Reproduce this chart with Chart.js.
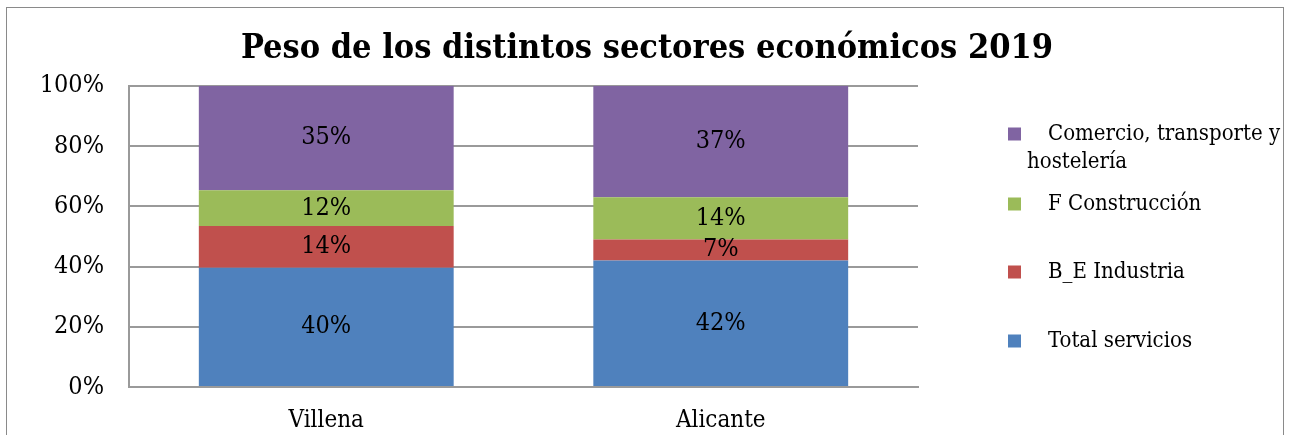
<!DOCTYPE html>
<html lang="es">
<head>
<meta charset="utf-8">
<title>Peso de los distintos sectores económicos 2019</title>
<script src="https://cdn.jsdelivr.net/npm/chart.js@4.4.1/dist/chart.umd.min.js"></script>
<style>
  html, body { margin: 0; padding: 0; background: #fff; }
  #wrap { position: relative; width: 1294px; height: 435px; overflow: hidden; }
  #frame { position: absolute; left: 6px; top: 7px; width: 1276px; height: 460px; border: 1px solid #8a8a8a; pointer-events: none; }
  canvas { position: absolute; left: 0; top: 0; }
</style>
</head>
<body>
<div id="wrap">
  <canvas id="chart" width="1294" height="435"></canvas>
  <div id="frame"></div>
</div>
<script>
// Peso de los distintos sectores económicos 2019 — 100% stacked bars

const categories = ["Villena", "Alicante"];
const seriesNames = ["Total servicios", "B_E Industria", "F Construcción", "Comercio, transporte y hostelería"];
const totalServicios = [40, 42];
const industria = [14, 7];
const construccion = [12, 14];
const comercio = [35, 37];
const yTicks = [0, 20, 40, 60, 80, 100];

const colors = ["#4F81BD", "#C0504D", "#9BBB59", "#8064A2"];
const FONT = "'DejaVu Serif Condensed', 'DejaVu Serif', serif";
const gridColor = "#9a9a9a";

// legend layout (items listed top to bottom, last series first)
const legendBox = { markerX: 1008, markerSize: 13, textX: 1048, wrapX: 1027, maxWidth: 275, lineGap: 28 };
const legendRows = [134, 204, 272, 341];

const series = [totalServicios, industria, construccion, comercio];
// each column shown as share of its total (100% stacked)
const colTotals = categories.map((_, j) => series.reduce((s, arr) => s + arr[j], 0));

const datasets = series.map((vals, i) => ({
  label: seriesNames[i],
  data: vals.map((v, j) => (v / colTotals[j]) * 100),
  pct: vals,
  backgroundColor: colors[i],
  borderWidth: 0,
  categoryPercentage: 1,
  barPercentage: 0.646,
}));

// ---------- value labels inside each segment ----------
const segmentLabels = {
  id: "segmentLabels",
  afterDatasetsDraw(chart) {
    const ctx = chart.ctx;
    ctx.save();
    ctx.font = "25px " + FONT;
    ctx.fillStyle = "#000";
    ctx.textAlign = "center";
    ctx.textBaseline = "middle";
    chart.data.datasets.forEach((ds, i) => {
      chart.getDatasetMeta(i).data.forEach((bar, j) => {
        const { x, y, base } = bar.getProps(["x", "y", "base"], true);
        ctx.fillText(ds.pct[j] + "%", x, (y + base) / 2);
      });
    });
    ctx.restore();
  },
};

// ---------- right-hand legend (Excel style, wrapped text) ----------
const sideLegend = {
  id: "sideLegend",
  afterDraw(chart) {
    const ctx = chart.ctx;
    const L = legendBox;
    ctx.save();
    ctx.font = "22px " + FONT;
    ctx.textBaseline = "middle";
    const items = chart.data.datasets.slice().reverse();
    items.forEach((ds, k) => {
      const cy = legendRows[k];
      ctx.fillStyle = ds.backgroundColor;
      ctx.fillRect(L.markerX, cy - L.markerSize / 2, L.markerSize, L.markerSize);
      ctx.fillStyle = "#000";
      // simple word wrap
      const words = ds.label.split(" ");
      const lines = [];
      let line = "";
      words.forEach((w) => {
        const test = line ? line + " " + w : w;
        const x0 = lines.length ? L.wrapX : L.textX;
        if (line && x0 + ctx.measureText(test).width > L.markerX + L.maxWidth) {
          lines.push(line);
          line = w;
        } else line = test;
      });
      lines.push(line);
      lines.forEach((t, n) => ctx.fillText(t, n ? L.wrapX : L.textX, cy + n * L.lineGap));
    });
    ctx.restore();
  },
};

new Chart(document.getElementById("chart"), {
  type: "bar",
  data: { labels: categories, datasets },
  plugins: [segmentLabels, sideLegend],
  options: {
    responsive: false,
    animation: false,
    layout: { padding: 0 },
    plugins: {
      legend: { display: false },
      tooltip: { enabled: false },
      title: {
        display: true,
        text: "Peso de los distintos sectores económicos 2019",
        color: "#000",
        font: { family: FONT, size: 34, weight: "bold" },
        padding: { top: 29, bottom: 16 },
      },
    },
    scales: {
      x: {
        stacked: true,
        grid: { display: false, drawTicks: false },
        border: { display: true, color: gridColor, width: 2 },
        ticks: { color: "#000", font: { family: FONT, size: 24 }, padding: 19 },
        afterFit(s) { s.height = 48; },
      },
      y: {
        stacked: true,
        min: 0,
        max: 100,
        afterBuildTicks(s) { s.ticks = yTicks.map((v) => ({ value: v })); },
        grid: { color: gridColor, lineWidth: 2, drawTicks: false },
        border: { display: true, color: gridColor, width: 2 },
        ticks: { color: "#000", font: { family: FONT, size: 25 }, padding: 25, callback: (v) => v + "%" },
        afterFit(s) { s.width = 129; },
      },
      // empty axis that keeps the room for the legend on the right
      spacer: {
        type: "linear",
        position: "right",
        grid: { display: false, drawTicks: false },
        border: { display: false },
        ticks: { display: false },
        afterFit(s) { s.width = 376; },
      },
    },
  },
});
</script>
</body>
</html>
